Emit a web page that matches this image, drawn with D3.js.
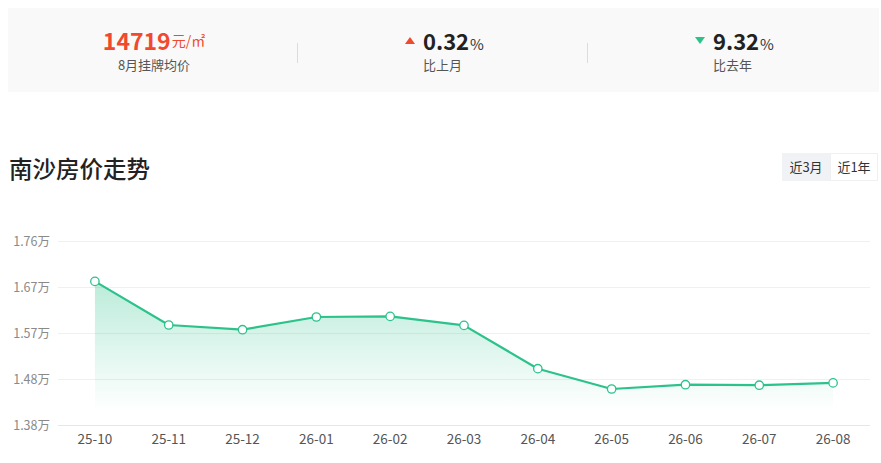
<!DOCTYPE html>
<html>
<head>
<meta charset="utf-8">
<script src="https://cdn.jsdelivr.net/npm/d3@7/dist/d3.min.js"></script>
<style>
  html, body { margin: 0; padding: 0; background: #fff; }
  svg { display: block; font-family: "Noto Sans CJK SC", "Noto Sans", sans-serif; }
</style>
</head>
<body>
<svg id="chart" width="881" height="463"></svg>
<script>
// ---- data ----
const months = ["25-10","25-11","25-12","26-01","26-02","26-03","26-04","26-05","26-06","26-07","26-08"];
const prices = [16816, 15915, 15818, 16080, 16093, 15907, 15013, 14593, 14682, 14672, 14719];
const yTickValues = [13850, 14800, 15750, 16700, 17650];
const yTickLabels = ["1.38万", "1.48万", "1.57万", "1.67万", "1.76万"];
const headerPrice = "14719";
const headerUnit = "元/㎡";
const headerPriceLabel = "8月挂牌均价";
const momValue = "0.32";
const momLabel = "比上月";
const yoyValue = "9.32";
const yoyLabel = "比去年";
const title = "南沙房价走势";
const rangeButtons = ["近3月", "近1年"];

const svg = d3.select("#chart");
const red = "#f0492e", green = "#2cc28b";

// ---- header panel ----
svg.append("rect").attr("x", 8).attr("y", 8).attr("width", 871).attr("height", 84).attr("fill", "#f9f9f9");
[297.5, 587.5].forEach(x => svg.append("line").attr("x1", x).attr("x2", x).attr("y1", 43).attr("y2", 63)
  .attr("stroke", "#dcdcdc").attr("stroke-width", 1));

// left block
const t1 = svg.append("text").attr("x", 154).attr("y", 50).attr("text-anchor", "middle");
t1.append("tspan").text(headerPrice).attr("font-size", 23).attr("font-weight", 700).attr("fill", red);
t1.append("tspan").text(headerUnit).attr("font-size", 14).attr("fill", red).attr("dy", -4).attr("dx", 1);
svg.append("text").attr("x", 154).attr("y", 70).attr("text-anchor", "middle")
  .attr("font-size", 13).attr("fill", "#555").text(headerPriceLabel);

function stat(tx, value, label, up) {
  const col = up ? red : green;
  const tri = up ? `M${tx - 18},44 L${tx - 13},37 L${tx - 8},44 Z` : `M${tx - 18},37 L${tx - 8},37 L${tx - 13},44 Z`;
  svg.append("path").attr("d", tri).attr("fill", col);
  const t = svg.append("text").attr("x", tx).attr("y", 50);
  t.append("tspan").text(value).attr("font-size", 22).attr("font-weight", 700).attr("fill", "#222");
  t.append("tspan").text("%").attr("font-size", 15).attr("fill", "#333").attr("dx", 1);
  svg.append("text").attr("x", tx).attr("y", 70).attr("font-size", 13).attr("fill", "#555").text(label);
}
stat(423, momValue, momLabel, true);
stat(713, yoyValue, yoyLabel, false);

// ---- title & buttons ----
svg.append("text").attr("x", 9).attr("y", 178).attr("font-size", 23.5).attr("font-weight", 500)
  .attr("fill", "#222").text(title);

const btn = svg.append("g");
rangeButtons.forEach((b, i) => {
  const x0 = 782 + i * 48;
  btn.append("rect").attr("x", x0 + 0.5).attr("y", 153.5).attr("width", 47).attr("height", 27)
    .attr("fill", i === 0 ? "#f0f2f5" : "#fff").attr("stroke", i === 0 ? "#f0f2f5" : "#f0f0f0");
  btn.append("text").attr("x", x0 + 24).attr("y", 172).attr("text-anchor", "middle")
    .attr("font-size", 13).attr("fill", "#333").text(b);
});

// ---- chart ----
const x = d3.scaleBand().domain(months).range([58, 870]).paddingInner(0).paddingOuter(0);
const y = d3.scaleLinear().domain([13850, 17650]).range([425, 241]);
const cx = d => x(d) + x.bandwidth() / 2;

const defs = svg.append("defs");
const grad = defs.append("linearGradient").attr("id", "areaGrad")
  .attr("gradientUnits", "userSpaceOnUse").attr("x1", 0).attr("x2", 0)
  .attr("y1", y(d3.max(prices))).attr("y2", y.range()[0]);
grad.append("stop").attr("offset", "0%").attr("stop-color", green).attr("stop-opacity", 0.32);
grad.append("stop").attr("offset", "90%").attr("stop-color", green).attr("stop-opacity", 0.0);

// grid
svg.append("g").selectAll("line").data(yTickValues).join("line")
  .attr("x1", 58).attr("x2", 870).attr("y1", d => Math.round(y(d)) + 0.5).attr("y2", d => Math.round(y(d)) + 0.5)
  .attr("stroke", (d, i) => i === 0 ? "#e6e6e6" : "#f0f0f0");

// y labels
svg.append("g").selectAll("text").data(yTickValues).join("text")
  .attr("x", 50).attr("y", d => y(d) + 4.5).attr("text-anchor", "end")
  .attr("font-size", 12.5).attr("fill", "#8a8a8a").text((d, i) => yTickLabels[i]);

// x labels
svg.append("g").selectAll("text").data(months).join("text")
  .attr("x", d => cx(d)).attr("y", 444).attr("text-anchor", "middle")
  .attr("font-size", 13.5).attr("fill", "#555").text(d => d);

const pts = months.map((m, i) => ({ m, v: prices[i] }));
const area = d3.area().x(d => cx(d.m)).y0(y.range()[0]).y1(d => y(d.v));
svg.append("path").datum(pts).attr("d", area).attr("fill", "url(#areaGrad)");

const line = d3.line().x(d => cx(d.m)).y(d => y(d.v));
svg.append("path").datum(pts).attr("d", line).attr("fill", "none")
  .attr("stroke", green).attr("stroke-width", 2.2).attr("stroke-linejoin", "round");

svg.append("g").selectAll("circle").data(pts).join("circle")
  .attr("cx", d => cx(d.m)).attr("cy", d => y(d.v)).attr("r", 4.2)
  .attr("fill", "#fff").attr("stroke", green).attr("stroke-width", 1.3);
</script>
</body>
</html>
